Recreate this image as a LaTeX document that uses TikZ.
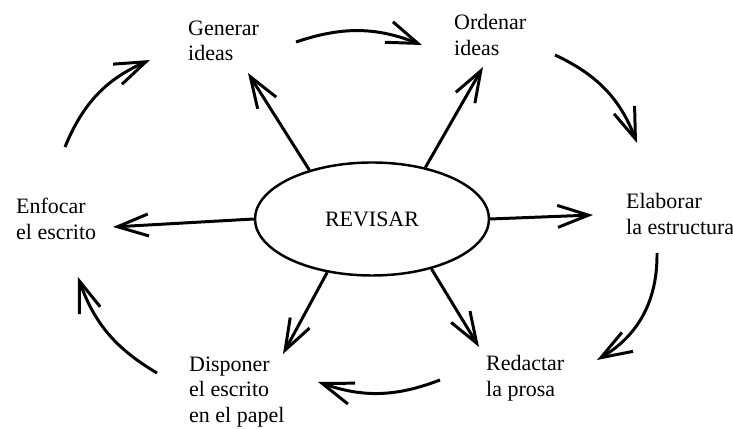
\documentclass[tikz,border=0pt]{standalone}
\usepackage{tikz}
\usepackage{xcolor}
\usepackage{fontspec}
\setmainfont{Liberation Serif}
\usetikzlibrary{shapes.geometric}
\usetikzlibrary{arrows.meta}

\tikzset{
  stage/.style={anchor=west, align=left, font=\fontsize{12.5}{14.5}\selectfont},
  spoke/.style={-{Straight Barb[length=0.62cm,width=0.44cm]}, line width=1.7pt},
  turn/.style={spoke, bend left=#1},
  turn/.default=22
}

\begin{document}
\begin{tikzpicture}
  \useasboundingbox (0,0) rectangle (14.66,8.58);
  \node (rev) [ellipse, draw, line width=1.4pt, minimum width=4.68cm, minimum height=2.26cm, inner sep=0pt, font=\fontsize{12.5}{14.5}\selectfont] at (7.44,4.2) {REVISAR};
  \node (gen) [stage] at (3.64,7.76) {Generar\\ideas};
  \node (ord) [stage] at (8.96,7.88) {Ordenar\\ideas};
  \node (ela) [stage] at (12.4,4.30) {Elaborar\\la estructura};
  \node (red) [stage] at (9.6,1.02) {Redactar\\la prosa};
  \node (dis) [stage] at (3.66,0.74) {Disponer\\el escrito\\en el papel};
  \node (enf) [stage] at (0.2,4.20) {Enfocar\\el escrito};
  \coordinate (gentip) at (4.96,7.12);
  \coordinate (ordtip) at (9.66,7.24);
  \coordinate (elatip) at (11.86,4.28);
  \coordinate (redtip) at (9.58,1.64);
  \coordinate (distip) at (5.66,1.50);
  \coordinate (enftip) at (2.26,4.04);
  \draw[spoke] (rev.142) -- (gentip);
  \draw[spoke] (rev.44) -- (ordtip);
  \draw[spoke] (rev.0) -- (elatip);
  \draw[spoke] (rev.320) -- (redtip);
  \draw[spoke] (rev.230) -- (distip);
  \draw[spoke] (rev.180) -- (enftip);
  \coordinate (gen-ord-a) at (5.92,7.74);
  \coordinate (gen-ord-b) at (8.44,7.68);
  \coordinate (ord-ela-a) at (11.10,7.48);
  \coordinate (ord-ela-b) at (12.74,5.72);
  \coordinate (ela-red-a) at (13.14,3.52);
  \coordinate (ela-red-b) at (11.94,1.38);
  \coordinate (red-dis-a) at (8.80,0.98);
  \coordinate (red-dis-b) at (6.36,0.94);
  \coordinate (dis-enf-a) at (3.14,1.12);
  \coordinate (dis-enf-b) at (1.56,3.04);
  \coordinate (enf-gen-a) at (1.30,5.64);
  \coordinate (enf-gen-b) at (3.00,7.38);
  \draw[turn=20] (gen-ord-a) to (gen-ord-b);
  \draw[turn] (ord-ela-a) to (ord-ela-b);
  \draw[turn=30] (ela-red-a) to (ela-red-b);
  \draw[turn=20] (red-dis-a) to (red-dis-b);
  \draw[turn=20] (dis-enf-a) to (dis-enf-b);
  \draw[turn] (enf-gen-a) to (enf-gen-b);
\end{tikzpicture}
\end{document}
